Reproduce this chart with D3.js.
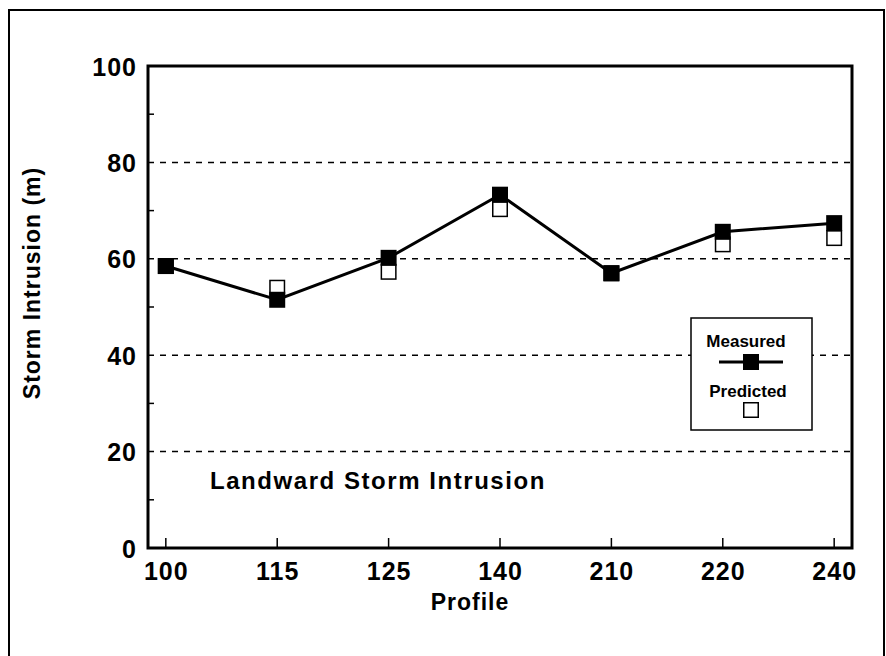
<!DOCTYPE html>
<html>
    <head>
        <meta charset="utf-8" />
        <script src="https://d3js.org/d3.v7.min.js"></script>
        <style>
            body { margin: 0; background: #fff; }
            svg { display: block; font-family: 'Liberation Sans', Arial, sans-serif; font-weight: bold; }
        </style>
    </head>
    <body>
        <svg width="886" height="656"></svg>
        <script>
            const profiles = ['100', '115', '125', '140', '210', '220', '240']
            const measured = [58.5, 51.5, 60.2, 73.3, 57.0, 65.6, 67.4]
            const predicted = [58.5, 54.0, 57.3, 70.3, 57.0, 63.0, 64.3]
            const yTicks = [0, 20, 40, 60, 80, 100]
            const gridValues = [20, 40, 60, 80]
            const minorTicks = [10, 30, 50, 70, 90]

            const svg = d3.select('svg')
            const plotLeft = 148, plotRight = 852, plotTop = 66, plotBottom = 548

            const x = d3.scalePoint().domain(profiles).range([plotLeft, plotRight]).padding(0.16)
            const y = d3.scaleLinear().domain([0, 100]).range([plotBottom, plotTop])

            // outer frame of the figure
            svg.append('rect')
                .attr('x', 9).attr('y', 10)
                .attr('width', 875).attr('height', 660)
                .style('fill', 'none').style('stroke', '#000').style('stroke-width', 2)

            // dashed grid
            svg.selectAll('line.grid')
                .data(gridValues)
                .enter()
                .append('line')
                .attr('class', 'grid')
                .attr('x1', plotLeft).attr('x2', plotRight)
                .attr('y1', (d) => y(d)).attr('y2', (d) => y(d))
                .style('stroke', '#000').style('stroke-width', 1.5)
                .style('stroke-dasharray', '6,6')

            // y axis with labels
            const yAxis = d3.axisLeft(y).tickValues(yTicks).tickSize(0).tickPadding(11)
            const gy = svg.append('g').attr('transform', `translate(${plotLeft},0)`).call(yAxis)
            gy.select('.domain').remove()
            gy.selectAll('text')
                .style('font-size', '25px').style('font-family', 'Liberation Sans, Arial, sans-serif')
                .style('font-weight', 'bold').style('letter-spacing', '1px').attr('dy', '0.36em')

            // minor inward ticks on left axis
            svg.selectAll('line.minor')
                .data(minorTicks)
                .enter()
                .append('line')
                .attr('x1', plotLeft).attr('x2', plotLeft + 6)
                .attr('y1', (d) => y(d)).attr('y2', (d) => y(d))
                .style('stroke', '#000').style('stroke-width', 1.5)

            // x axis, ticks inside
            const xAxis = d3.axisBottom(x).tickSize(0).tickPadding(14)
            const gx = svg.append('g').attr('transform', `translate(0,${plotBottom})`).call(xAxis)
            gx.select('.domain').remove()
            gx.selectAll('text')
                .style('font-size', '25px').style('font-family', 'Liberation Sans, Arial, sans-serif')
                .style('font-weight', 'bold').style('letter-spacing', '1px')
            svg.selectAll('line.xtick')
                .data(profiles)
                .enter()
                .append('line')
                .attr('x1', (d) => x(d)).attr('x2', (d) => x(d))
                .attr('y1', plotBottom).attr('y2', plotBottom - 10)
                .style('stroke', '#000').style('stroke-width', 1.5)

            // plot frame
            svg.append('rect')
                .attr('x', plotLeft).attr('y', plotTop)
                .attr('width', plotRight - plotLeft).attr('height', plotBottom - plotTop)
                .style('fill', 'none').style('stroke', '#000').style('stroke-width', 3)

            // predicted (open squares) beneath
            const s = 16
            svg.selectAll('rect.pred')
                .data(predicted)
                .enter()
                .append('rect')
                .attr('x', (d, i) => x(profiles[i]) - s / 2 + 0.75)
                .attr('y', (d) => y(d) - s / 2 + 0.75)
                .attr('width', s - 1.5).attr('height', s - 1.5)
                .style('fill', '#fff').style('stroke', '#000').style('stroke-width', 1.5)

            // measured line and filled squares
            const line = d3.line().x((d, i) => x(profiles[i])).y((d) => y(d))
            svg.append('path')
                .datum(measured)
                .attr('d', line)
                .style('fill', 'none').style('stroke', '#000').style('stroke-width', 3)

            svg.selectAll('rect.meas')
                .data(measured)
                .enter()
                .append('rect')
                .attr('x', (d, i) => x(profiles[i]) - s / 2)
                .attr('y', (d) => y(d) - s / 2)
                .attr('width', s).attr('height', s)
                .style('fill', '#000')

            // titles
            svg.append('text')
                .attr('transform', 'translate(40,283) rotate(-90)')
                .attr('text-anchor', 'middle')
                .style('font-size', '23px').style('letter-spacing', '1px')
                .text('Storm Intrusion (m)')

            svg.append('text')
                .attr('x', 470).attr('y', 610)
                .attr('text-anchor', 'middle')
                .style('font-size', '23px').style('letter-spacing', '1px')
                .text('Profile')

            svg.append('text')
                .attr('x', 210).attr('y', 489)
                .style('font-size', '24px').style('letter-spacing', '1.55px')
                .text('Landward Storm Intrusion')

            // legend
            const lg = svg.append('g')
            lg.append('rect')
                .attr('x', 691).attr('y', 318).attr('width', 121).attr('height', 112)
                .style('fill', '#fff').style('stroke', '#000').style('stroke-width', 1.5)
            lg.append('text').attr('x', 746).attr('y', 347).attr('text-anchor', 'middle')
                .style('font-size', '17px').text('Measured')
            lg.append('line').attr('x1', 719).attr('x2', 783).attr('y1', 362).attr('y2', 362)
                .style('stroke', '#000').style('stroke-width', 3)
            lg.append('rect').attr('x', 743).attr('y', 354).attr('width', 16).attr('height', 16)
                .style('fill', '#000')
            lg.append('text').attr('x', 748).attr('y', 397).attr('text-anchor', 'middle')
                .style('font-size', '17px').text('Predicted')
            lg.append('rect').attr('x', 743.75).attr('y', 402.75).attr('width', 14.5).attr('height', 14.5)
                .style('fill', '#fff').style('stroke', '#000').style('stroke-width', 1.5)
        </script>
    </body>
</html>
